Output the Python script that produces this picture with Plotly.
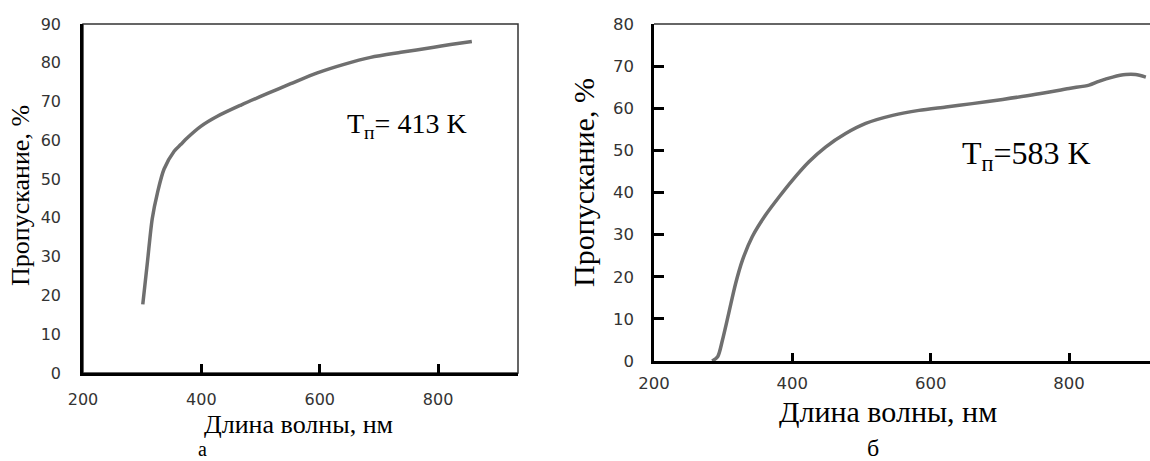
import plotly.graph_objects as go

# ---- data ----
wl_a = [301, 309, 317, 326, 337, 354, 365, 376, 399, 427, 467, 512, 551, 596, 641, 686, 737, 793, 821, 857]
tr_a = [17.7, 28.8, 39.8, 46.6, 52.6, 57.2, 58.9, 60.6, 63.6, 66.2, 69.1, 72.1, 74.6, 77.4, 79.6, 81.4, 82.7, 84.0, 84.7, 85.5]

wl_b = [284, 292, 299, 308, 318, 328, 342, 361, 381, 400, 424, 448, 477, 506, 545, 583, 622, 660, 704, 752, 800, 829, 843, 863, 882, 896, 911]
tr_b = [0.0, 1.0, 5.0, 11.3, 18.4, 24.0, 29.5, 34.6, 39.0, 42.9, 47.3, 50.8, 54.0, 56.4, 58.3, 59.5, 60.3, 61.1, 62.1, 63.3, 64.7, 65.5, 66.4, 67.4, 68.0, 68.0, 67.4]

x_ticks = [200, 400, 600, 800]
y_labels_a = [0, 10, 20, 30, 40, 50, 60, 70, 80, 90]
y_marks_a = [20, 40, 60, 80]
y_labels_b = [0, 10, 20, 30, 40, 50, 60, 70, 80]

x_title = "Длина волны, нм"
y_title = "Пропускание, %"
label_a = "T<sub>п</sub>= 413 K"
label_b = "T<sub>п</sub>=583 K"

W, H = 1150, 461
LINE_COLOR = "#6f6f6f"
TICK_FONT = "DejaVu Sans"
SERIF = "Liberation Serif"

def px_x(p):
    return p / W

def px_y(p):
    return 1 - p / H

fig = go.Figure()
fig.add_trace(go.Scatter(x=wl_a, y=tr_a, mode="lines", line=dict(color=LINE_COLOR, width=3.5, shape="spline", smoothing=0.8),
                         xaxis="x", yaxis="y", showlegend=False, hoverinfo="skip"))
fig.add_trace(go.Scatter(x=wl_b, y=tr_b, mode="lines", line=dict(color=LINE_COLOR, width=3.5, shape="spline", smoothing=0.8),
                         xaxis="x2", yaxis="y2", showlegend=False, hoverinfo="skip"))

dom_a_x = [px_x(83), px_x(518)]
dom_a_y = [px_y(373), px_y(24)]
dom_b_x = [px_x(654), 1.0]
dom_b_y = [px_y(361), px_y(24)]

fig.update_layout(
    template="none",
    width=W, height=H,
    margin=dict(l=0, r=0, t=0, b=0, pad=0),
    paper_bgcolor="white", plot_bgcolor="white",
    xaxis=dict(domain=dom_a_x, anchor="y", range=[200, 935], tickvals=x_ticks, automargin=False,
               showline=True, linewidth=2.5, linecolor="black", ticks="inside", ticklen=9, tickwidth=2.5,
               tickcolor="black", showgrid=False, zeroline=False, ticklabelstandoff=10,
               tickfont=dict(family=TICK_FONT, size=16, color="#333333")),
    yaxis=dict(domain=dom_a_y, anchor="x", range=[0, 90], tickvals=y_labels_a, automargin=False,
               showline=True, linewidth=2.5, linecolor="black", ticks="", showgrid=False, zeroline=False,
               ticklabelstandoff=16, tickfont=dict(family=TICK_FONT, size=16, color="#333333")),
    yaxis3=dict(overlaying="y", anchor="x", range=[0, 90], tickvals=y_marks_a, ticks="inside", ticklen=9,
                tickwidth=2.5, tickcolor="black", showticklabels=False, showgrid=False, zeroline=False,
                showline=False, side="left", automargin=False),
    xaxis2=dict(domain=dom_b_x, anchor="y2", range=[200, 917], tickvals=x_ticks, automargin=False,
                showline=True, linewidth=2.5, linecolor="black", ticks="inside", ticklen=8, tickwidth=2.5,
                tickcolor="black", showgrid=False, zeroline=False, ticklabelstandoff=5,
                tickfont=dict(family=TICK_FONT, size=16.5, color="#333333")),
    yaxis2=dict(domain=dom_b_y, anchor="x2", range=[0, 80], tickvals=y_labels_b, automargin=False,
                showline=True, linewidth=2.5, linecolor="black", ticks="inside", ticklen=10, tickwidth=2.5,
                tickcolor="black", showgrid=False, zeroline=False, ticklabelstandoff=14,
                tickfont=dict(family=TICK_FONT, size=16.5, color="#333333")),
    shapes=[
        dict(type="rect", xref="x domain", yref="y domain", x0=0, x1=1, y0=0, y1=1,
             line=dict(color="#333333", width=1.5), layer="below"),
        dict(type="line", xref="x2 domain", yref="y2 domain", x0=0, x1=1, y0=1, y1=1,
             line=dict(color="#333333", width=1.5), layer="below"),
    ],
    annotations=[
        dict(text=x_title, xref="paper", yref="paper", x=px_x(298), y=px_y(424), xanchor="center", yanchor="middle",
             showarrow=False, font=dict(family=SERIF, size=26, color="black")),
        dict(text=y_title, xref="paper", yref="paper", x=px_x(20), y=px_y(196), xanchor="center", yanchor="middle",
             textangle=-90, showarrow=False, font=dict(family=SERIF, size=26, color="black")),
        dict(text=x_title, xref="paper", yref="paper", x=px_x(888), y=px_y(411), xanchor="center", yanchor="middle",
             showarrow=False, font=dict(family=SERIF, size=30, color="black")),
        dict(text=y_title, xref="paper", yref="paper", x=px_x(583), y=px_y(183), xanchor="center", yanchor="middle",
             textangle=-90, showarrow=False, font=dict(family=SERIF, size=30, color="black")),
        dict(text=label_a, xref="paper", yref="paper", x=px_x(345), y=px_y(125), xanchor="left", yanchor="middle",
             showarrow=False, font=dict(family=SERIF, size=28, color="black")),
        dict(text=label_b, xref="paper", yref="paper", x=px_x(960), y=px_y(155), xanchor="left", yanchor="middle",
             showarrow=False, font=dict(family=SERIF, size=32, color="black")),
        dict(text="а", xref="paper", yref="paper", x=px_x(202), y=px_y(449), xanchor="center", yanchor="middle",
             showarrow=False, font=dict(family=SERIF, size=20, color="black")),
        dict(text="б", xref="paper", yref="paper", x=px_x(873), y=px_y(448), xanchor="center", yanchor="middle",
             showarrow=False, font=dict(family=SERIF, size=24, color="black")),
    ],
)

fig.write_html("out.html", config={"displayModeBar": False},
               post_script="document.body.style.margin='0px';document.body.style.padding='0px';")
